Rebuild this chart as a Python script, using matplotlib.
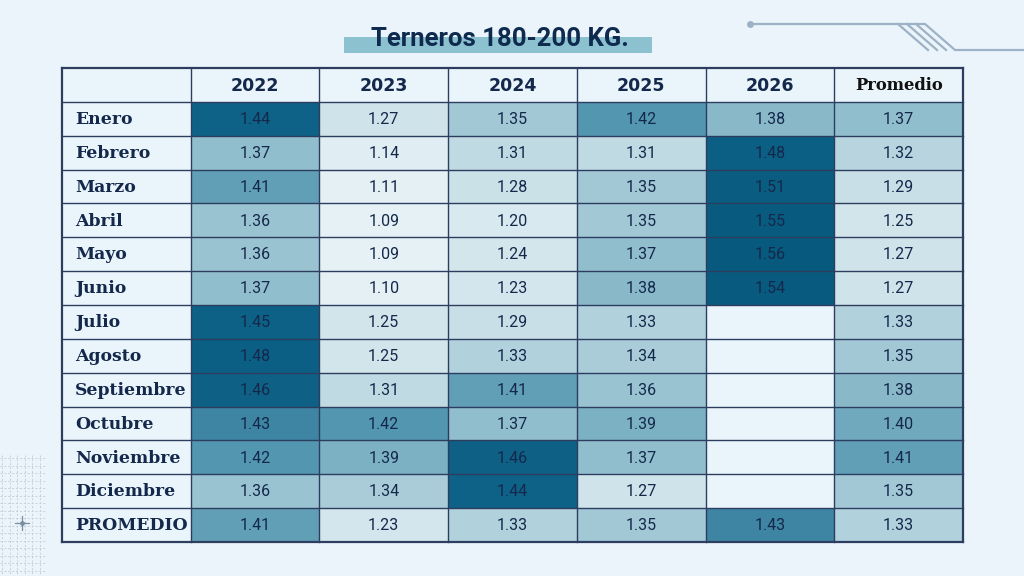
import numpy as np
import matplotlib
matplotlib.use("Agg")
import matplotlib.pyplot as plt
from matplotlib.colors import LinearSegmentedColormap
from matplotlib.patches import Rectangle

# --- data ---
title = "Terneros 180-200 KG."
months = ["Enero", "Febrero", "Marzo", "Abril", "Mayo", "Junio", "Julio",
          "Agosto", "Septiembre", "Octubre", "Noviembre", "Diciembre"]
col_headers = ["2022", "2023", "2024", "2025", "2026", "Promedio"]
total_label = "PROMEDIO"

v2022 = [1.44, 1.37, 1.41, 1.36, 1.36, 1.37, 1.45, 1.48, 1.46, 1.43, 1.42, 1.36]
v2023 = [1.27, 1.14, 1.11, 1.09, 1.09, 1.10, 1.25, 1.25, 1.31, 1.42, 1.39, 1.34]
v2024 = [1.35, 1.31, 1.28, 1.20, 1.24, 1.23, 1.29, 1.33, 1.41, 1.37, 1.46, 1.44]
v2025 = [1.42, 1.31, 1.35, 1.35, 1.37, 1.38, 1.33, 1.34, 1.36, 1.39, 1.37, 1.27]
v2026 = [1.38, 1.48, 1.51, 1.55, 1.56, 1.54, None, None, None, None, None, None]
prom_mes = [1.37, 1.32, 1.29, 1.25, 1.27, 1.27, 1.33, 1.35, 1.38, 1.40, 1.41, 1.35]
prom_anio = [1.41, 1.23, 1.33, 1.35, 1.43, 1.33]

# --- colours ---
bg = "#eaf4fa"
navy = "#14284b"
line_c = "#2c3d60"
vmin, vmax = 1.09, 1.56
stops = [(1.09, "#e6f1f5"), (1.20, "#d8e9ef"), (1.27, "#cfe3ea"), (1.31, "#c0dae3"),
         (1.35, "#a2c8d5"), (1.38, "#88b9c9"), (1.40, "#70a9be"), (1.42, "#5396af"),
         (1.43, "#4289a6"), (1.44, "#0f6287"), (1.56, "#075a7d")]
cmap = LinearSegmentedColormap.from_list(
    "tern", [((v - vmin) / (vmax - vmin), c) for v, c in stops])

cols = [v2022, v2023, v2024, v2025, v2026, prom_mes]
grid = np.array([[np.nan if c[i] is None else c[i] for c in cols] for i in range(len(months))]
                + [prom_anio], dtype=float)

fig = plt.figure(figsize=(10.24, 5.76), dpi=100, facecolor=bg)

# background decoration axes (pixel coords)
bgax = fig.add_axes([0, 0, 1, 1])
bgax.set_xlim(0, 1024)
bgax.set_ylim(576, 0)
bgax.axis("off")

# title with underline bar
bgax.add_patch(Rectangle((344, 37), 308, 16, color="#8cc1d0", lw=0))
bgax.text(500, 39, title, ha="center", va="center", fontsize=18.5,
          fontweight="bold", family="Roboto", color="#0f2a4f")

# top-right circuit line
deco = "#9db2c6"
bgax.plot([750, 925, 955, 1024], [24, 24, 50, 50], color=deco, lw=1.6)
bgax.plot([750], [24], "o", color=deco, ms=4)
for dx in (0, 9, 18):
    bgax.plot([898 + dx, 928 + dx], [24, 50], color=deco, lw=1.6)

# bottom-left dashed grid with crosshair
for gx in np.arange(2, 46, 7.5):
    bgax.plot([gx, gx], [455, 576], color="#c3d0dc", lw=0.7, ls=(0, (2, 2)))
for gy in np.arange(458, 576, 7.5):
    bgax.plot([0, 45], [gy, gy], color="#c3d0dc", lw=0.7, ls=(0, (2, 2)))
bgax.plot([15, 29], [523, 523], color="#7d8ea3", lw=0.9)
bgax.plot([22, 22], [516, 530], color="#7d8ea3", lw=0.9)
bgax.plot([22], [523], "o", color="#7d8ea3", ms=2.5)

# table axes
ax = fig.add_axes([62 / 1024, 34 / 576, 901 / 1024, 474 / 576])
ncol = len(col_headers) + 1
nrow = len(months) + 2
ax.set_xlim(0, ncol)
ax.set_ylim(nrow, 0)
ax.axis("off")

# plain cells (labels, header, blanks)
ax.add_patch(Rectangle((0, 0), ncol, nrow, color="#eaf5fb", lw=0, zorder=0))

masked = np.ma.masked_invalid(grid)
ax.pcolormesh(np.arange(1, ncol + 1), np.arange(1, nrow + 1), masked,
              cmap=cmap, vmin=vmin, vmax=vmax, zorder=1)

# grid lines
for x in range(ncol + 1):
    ax.plot([x, x], [0, nrow], color=line_c, lw=1.6 if x in (0, ncol) else 1.0, zorder=3, clip_on=False)
for y in range(nrow + 1):
    ax.plot([0, ncol], [y, y], color=line_c, lw=1.6 if y in (0, nrow) else 1.0, zorder=3, clip_on=False)

# headers
for j, h in enumerate(col_headers):
    if h == "Promedio":
        ax.text(j + 1.5, 0.52, h, ha="center", va="center", fontsize=11.8,
                fontweight="bold", family="DejaVu Serif", color="#111111", zorder=4)
    else:
        ax.text(j + 1.5, 0.52, h, ha="center", va="center", fontsize=12.5,
                fontweight="bold", family="DejaVu Sans", color=navy, zorder=4)

# row labels
for i, m in enumerate(months + [total_label]):
    ax.text(0.1, i + 1.52, m, ha="left", va="center", fontsize=12.4,
            fontweight="bold", family="DejaVu Serif", color=navy, zorder=4)

# values
for i in range(grid.shape[0]):
    for j in range(grid.shape[1]):
        if not np.isnan(grid[i, j]):
            ax.text(j + 1.5, i + 1.52, f"{grid[i, j]:.2f}", ha="center", va="center",
                    fontsize=11.5, family="Roboto", color=navy, zorder=4)

fig.savefig("out.png", dpi=100, facecolor=bg)
